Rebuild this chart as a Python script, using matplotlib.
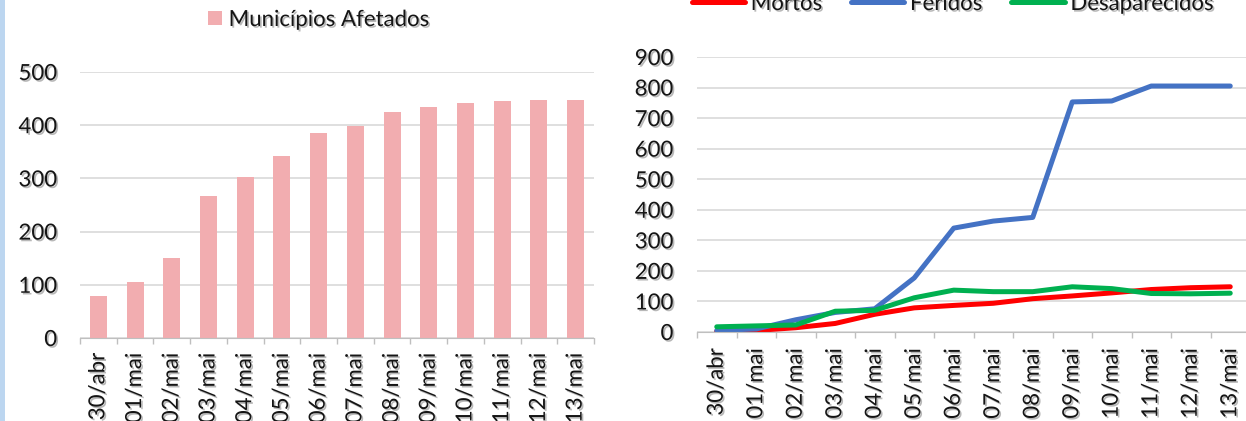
import matplotlib
matplotlib.use("Agg")
import matplotlib.pyplot as plt
import matplotlib.patheffects as pe
from matplotlib.patches import Rectangle

datas = ["30/abr", "01/mai", "02/mai", "03/mai", "04/mai", "05/mai", "06/mai",
         "07/mai", "08/mai", "09/mai", "10/mai", "11/mai", "12/mai", "13/mai"]
municipios = [79, 106, 151, 267, 302, 343, 386, 398, 425, 435, 441, 445, 447, 447]
mortos = [2, 5, 14, 28, 58, 79, 87, 94, 109, 118, 128, 139, 145, 148]
feridos = [5, 10, 40, 64, 76, 177, 340, 363, 375, 753, 756, 805, 805, 805]
desaparecidos = [17, 20, 23, 68, 71, 112, 137, 132, 132, 148, 142, 126, 125, 127]

plt.rcParams['font.family'] = ['Lato', 'DejaVu Sans']
fs = 16
txt = '#151515'
shadow = [pe.SimplePatchShadow(offset=(1.2, -1.2), shadow_rgbFace='#8a8a8a', alpha=0.6), pe.Normal()]

W, H = 1246, 421
fig = plt.figure(figsize=(W / 100, H / 100), dpi=100)

# faixa azul clara na borda esquerda
fig.patches.append(Rectangle((0, 0), 5 / W, 1, transform=fig.transFigure,
                             facecolor='#bcd6f0', edgecolor='none'))


def estilo(ax, ymax, step, ypad, xpad):
    x = list(range(len(datas)))
    ax.set_xlim(-0.5, len(datas) - 0.5)
    ax.set_ylim(0, ymax)
    ax.set_yticks(range(0, ymax + 1, step))
    ax.set_xticks(x)
    ax.set_xticklabels(datas, rotation=90, fontsize=fs, color=txt)
    ax.set_xticks([i - 0.5 for i in range(len(datas) + 1)], minor=True)
    ax.tick_params(axis='x', which='major', length=0, pad=xpad)
    ax.tick_params(axis='x', which='minor', length=4.5, color='#bfbfbf', width=1)
    ax.tick_params(axis='y', length=0, pad=ypad, labelsize=fs, labelcolor=txt)
    for s in ['top', 'right', 'left']:
        ax.spines[s].set_visible(False)
    ax.spines['bottom'].set_color('#bfbfbf')
    ax.grid(axis='y', color='#d9d9d9', linewidth=1.2)
    ax.set_axisbelow(True)
    for lab in ax.get_xticklabels() + ax.get_yticklabels():
        lab.set_path_effects(shadow)


# barras
ax1 = fig.add_axes([80 / W, 1 - 338 / H, (594 - 80) / W, (338 - 72) / H])
ax1.bar(range(len(datas)), municipios, width=0.46, color='#f2adb0',
        label='Municípios Afetados', zorder=2)
estilo(ax1, 500, 100, 16.5, 10.5)
leg1 = ax1.legend(loc='center', bbox_to_anchor=(319 / W, 1 - 20 / H),
                  bbox_transform=fig.transFigure, frameon=False, fontsize=fs,
                  handlelength=0.62, handleheight=0.62, handletextpad=0.3)
for t in leg1.get_texts():
    t.set_color(txt)
    t.set_path_effects(shadow)

# linhas
ax2 = fig.add_axes([697 / W, 1 - 332 / H, (1250 - 697) / W, (332 - 57) / H])
x = range(len(datas))
ax2.plot(x, mortos, color='#ff0000', linewidth=3.6, label='Mortos',
         solid_capstyle='round', solid_joinstyle='round')
ax2.plot(x, feridos, color='#4472c4', linewidth=3.6, label='Feridos',
         solid_capstyle='round', solid_joinstyle='round')
ax2.plot(x, desaparecidos, color='#00b050', linewidth=3.6, label='Desaparecidos',
         solid_capstyle='round', solid_joinstyle='round')
estilo(ax2, 900, 100, 17, 11.5)
leg2 = ax2.legend(loc='center', ncol=3, bbox_to_anchor=(953 / W, 1 - 4 / H),
                  bbox_transform=fig.transFigure, frameon=False, fontsize=fs,
                  handlelength=2.4, handletextpad=0.25, columnspacing=1.3)
for t in leg2.get_texts():
    t.set_color(txt)
    t.set_path_effects(shadow)

fig.savefig("out.png", dpi=100)
